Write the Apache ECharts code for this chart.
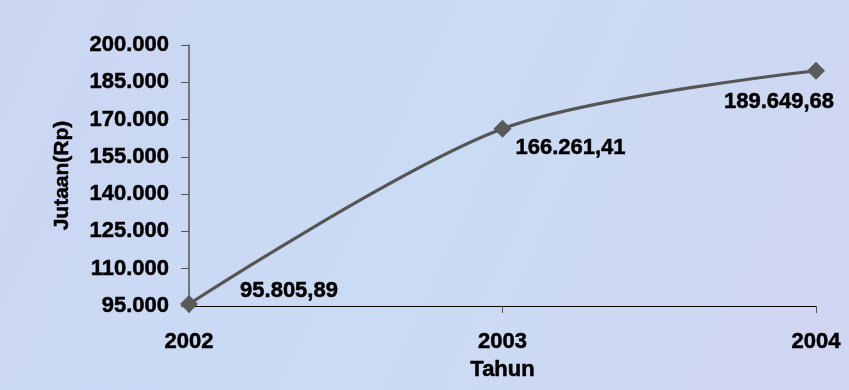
<!DOCTYPE html>
<html>
<head>
<meta charset="utf-8">
<script src="https://cdn.jsdelivr.net/npm/echarts@6/dist/echarts.min.js"></script>
<style>
html,body{margin:0;padding:0;background:#c9d5f0;}
#chart{width:849px;height:390px;}
</style>
</head>
<body>
<div id="chart"></div>
<script>
var categories = ['2002', '2003', '2004'];
var values = [95805.89, 166261.41, 189649.68];
var labelOffsets = [[100, -13], [68, 19], [-37, 31]];
var yMin = 95000, yMax = 200000, yInterval = 15000;

function fmtThousands(intStr) {
  return intStr.replace(/\B(?=(\d{3})+(?!\d))/g, '.');
}
function fmtValue(v) {
  var parts = v.toFixed(2).split('.');
  return fmtThousands(parts[0]) + ',' + parts[1];
}

var FONT = 'Liberation Sans, Arial, sans-serif';
var TB = { textBorderColor: '#000', textBorderWidth: 0.5 };
var chart = echarts.init(document.getElementById('chart'));
var seriesData = values.map(function (v, i) {
  return {
    value: v,
    label: { offset: labelOffsets[i] }
  };
});

chart.setOption({
  backgroundColor: {
    type: 'linear', x: 0, y: 0, x2: 1, y2: 1,
    colorStops: [
      { offset: 0, color: '#ccd6f2' },
      { offset: 0.5, color: '#cadbf4' },
      { offset: 1, color: '#d1d5f1' }
    ]
  },
  animation: false,
  grid: { left: 189, right: 33, top: 45, bottom: 84 },
  xAxis: {
    type: 'category',
    data: categories,
    boundaryGap: false,
    name: 'Tahun',
    nameLocation: 'middle',
    nameGap: 53,
    nameTextStyle: Object.assign({ fontFamily: FONT, fontWeight: 'bold', fontSize: 22, color: '#000' }, TB),
    axisLine: { lineStyle: { color: '#000', width: 1.2 } },
    axisTick: { show: true, length: 7, alignWithLabel: true, lineStyle: { color: '#555' } },
    axisLabel: Object.assign({ margin: 25, fontFamily: FONT, fontWeight: 'bold', fontSize: 22, color: '#000' }, TB),
    splitLine: { show: false }
  },
  yAxis: {
    type: 'value',
    min: yMin,
    max: yMax,
    interval: yInterval,
    name: 'Jutaan(Rp)',
    nameLocation: 'middle',
    nameRotate: 90,
    nameGap: 116,
    nameTextStyle: Object.assign({ fontFamily: FONT, fontWeight: 'bold', fontSize: 21, color: '#000' }, TB),
    axisLine: { show: true, lineStyle: { color: '#555', width: 1.5 } },
    axisTick: { show: true, length: 8, lineStyle: { color: '#555' } },
    axisLabel: Object.assign({
      margin: 20, fontFamily: FONT, fontWeight: 'bold', fontSize: 22, color: '#000',
      formatter: function (v) { return fmtThousands(String(Math.round(v))); }
    }, TB),
    splitLine: { show: false }
  },
  series: [{
    type: 'line',
    data: seriesData,
    smooth: 0.3,
    symbol: 'diamond',
    symbolSize: 18,
    lineStyle: { color: '#555555', width: 3.2 },
    itemStyle: { color: '#5a5a5a' },
    label: Object.assign({
      show: true,
      position: 'inside',
      align: 'center',
      verticalAlign: 'middle',
      fontFamily: FONT,
      fontWeight: 'bold',
      fontSize: 22,
      color: '#000',
      formatter: function (p) { return fmtValue(p.value); }
    }, TB)
  }]
});
</script>
</body>
</html>
